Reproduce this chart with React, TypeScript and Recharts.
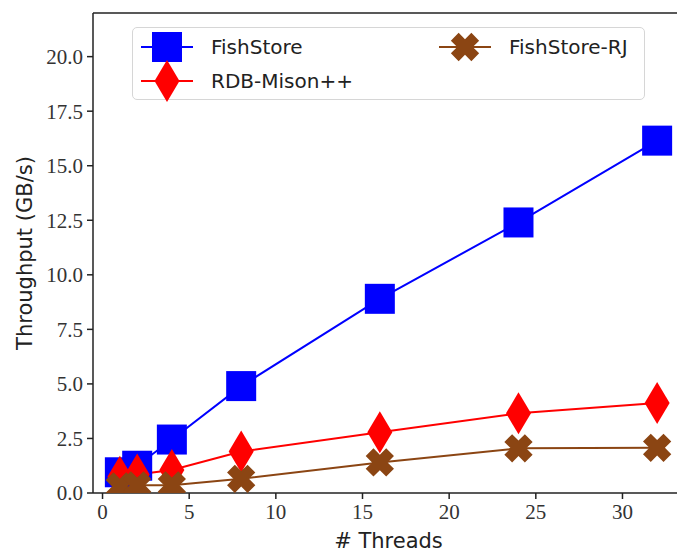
import React from "react";
import { LineChart, Line, XAxis, YAxis, ReferenceLine } from "recharts";

// thread counts and measured throughput (GB/s)
const threads = [1, 2, 4, 8, 16, 24, 32];
const fishStore = [0.95, 1.25, 2.45, 4.9, 8.9, 12.4, 16.15];
const rdbMison = [0.75, 0.85, 1.05, 1.9, 2.78, 3.65, 4.12];
const fishStoreRJ = [0.3, 0.35, 0.35, 0.65, 1.4, 2.05, 2.07];

const xTicks = [0, 5, 10, 15, 20, 25, 30];
const yTicks = [0, 2.5, 5, 7.5, 10, 12.5, 15, 17.5, 20];

const data = threads.map((t, i) => ({
  threads: t,
  fishStore: fishStore[i],
  rdbMison: rdbMison[i],
  fishStoreRJ: fishStoreRJ[i],
}));

const BLUE = "#0000ff";
const RED = "#ff0000";
const BROWN = "#8b4513";
const SERIF = "'Liberation Serif', 'DejaVu Serif', serif";
const SANS = "'DejaVu Sans', sans-serif";

type MarkerProps = { cx: number; cy: number; color: string };

function SquareMark({ cx, cy, color }: MarkerProps) {
  return <rect x={cx - 15} y={cy - 15} width={30} height={30} fill={color} />;
}

function DiamondMark({ cx, cy, color }: MarkerProps) {
  const w = 12.5;
  const h = 21;
  return (
    <polygon
      points={`${cx},${cy - h} ${cx + w},${cy} ${cx},${cy + h} ${cx - w},${cy}`}
      fill={color}
    />
  );
}

// filled "X": a plus sign turned by 45 degrees
function CrossMark({ cx, cy, color }: MarkerProps) {
  const L = 14.5;
  const w = 5.5;
  const pts: [number, number][] = [
    [-w, -L], [w, -L], [w, -w], [L, -w], [L, w], [w, w],
    [w, L], [-w, L], [-w, w], [-L, w], [-L, -w], [-w, -w],
  ];
  const c = Math.SQRT1_2;
  const s = pts
    .map(([x, y]) => `${cx + (x - y) * c},${cy + (x + y) * c}`)
    .join(" ");
  return <polygon points={s} fill={color} />;
}

const series = [
  { key: "fishStore", name: "FishStore", color: BLUE, Mark: SquareMark, at: [8, 19] },
  { key: "rdbMison", name: "RDB-Mison++", color: RED, Mark: DiamondMark, at: [8, 53] },
  { key: "fishStoreRJ", name: "FishStore-RJ", color: BROWN, Mark: CrossMark, at: [306, 19] },
];

function makeDot(Mark: (p: MarkerProps) => React.ReactElement, color: string) {
  return (props: any) => {
    if (props.cx == null || props.cy == null) return <g key={props.index} />;
    return <Mark key={props.index} cx={props.cx} cy={props.cy} color={color} />;
  };
}

// legend drawn as an overlay so it doesn't take space from the plot
function LegendBox() {
  return (
    <div
      style={{
        position: "absolute",
        left: 132,
        top: 27,
        width: 513,
        height: 73,
        boxSizing: "border-box",
        border: "1px solid #d6d6d6",
        borderRadius: 5,
        background: "rgba(255,255,255,0.8)",
      }}
    >
      <svg width={513} height={80} style={{ overflow: "visible", display: "block" }}>
        {series.map(({ key, name, color, Mark, at }) => (
          <g key={key}>
            <line x1={at[0]} x2={at[0] + 52} y1={at[1]} y2={at[1]} stroke={color} strokeWidth={2} />
            <Mark cx={at[0] + 26} cy={at[1]} color={color} />
            <text
              x={at[0] + 70}
              y={at[1]}
              dominantBaseline="central"
              fontFamily={SANS}
              fontSize={20}
              fill="#222"
            >
              {name}
            </text>
          </g>
        ))}
      </svg>
    </div>
  );
}

export default function App() {
  return (
    <div
      style={{
        position: "absolute",
        left: 0,
        top: 0,
        width: 677,
        height: 554,
        overflow: "hidden",
        background: "#fff",
      }}
    >
      <LineChart
        width={700}
        height={554}
        data={data}
        margin={{ top: 13, right: 16, left: 0, bottom: 0 }}
      >
        <XAxis
          dataKey="threads"
          type="number"
          domain={[-0.55, 33.55]}
          ticks={xTicks}
          allowDataOverflow
          height={61}
          stroke="#222"
          strokeWidth={1.5}
          tickSize={6}
          tickMargin={5}
          tick={{ fill: "#333", fontSize: 21, fontFamily: SERIF }}
          label={{
            value: "# Threads",
            position: "insideBottom",
            offset: 6,
            fill: "#222",
            fontSize: 21,
            fontFamily: SANS,
          }}
        />
        <YAxis
          type="number"
          domain={[0, 22]}
          ticks={yTicks}
          allowDataOverflow
          width={93}
          stroke="#222"
          strokeWidth={1.5}
          tickSize={6}
          tickMargin={4}
          tickFormatter={(v: number) => v.toFixed(1)}
          tick={{ fill: "#333", fontSize: 21, fontFamily: SERIF }}
          label={{
            value: "Throughput (GB/s)",
            angle: -90,
            position: "insideLeft",
            offset: 25,
            style: { textAnchor: "middle" },
            fill: "#222",
            fontSize: 21,
            fontFamily: SANS,
          }}
        />
        <ReferenceLine y={22} stroke="#222" strokeWidth={1.5} />
        {series.map(({ key, name, color, Mark }) => (
          <Line
            key={key}
            dataKey={key}
            name={name}
            stroke={color}
            strokeWidth={2}
            dot={makeDot(Mark, color)}
            isAnimationActive={false}
          />
        ))}
      </LineChart>
      <LegendBox />
    </div>
  );
}
